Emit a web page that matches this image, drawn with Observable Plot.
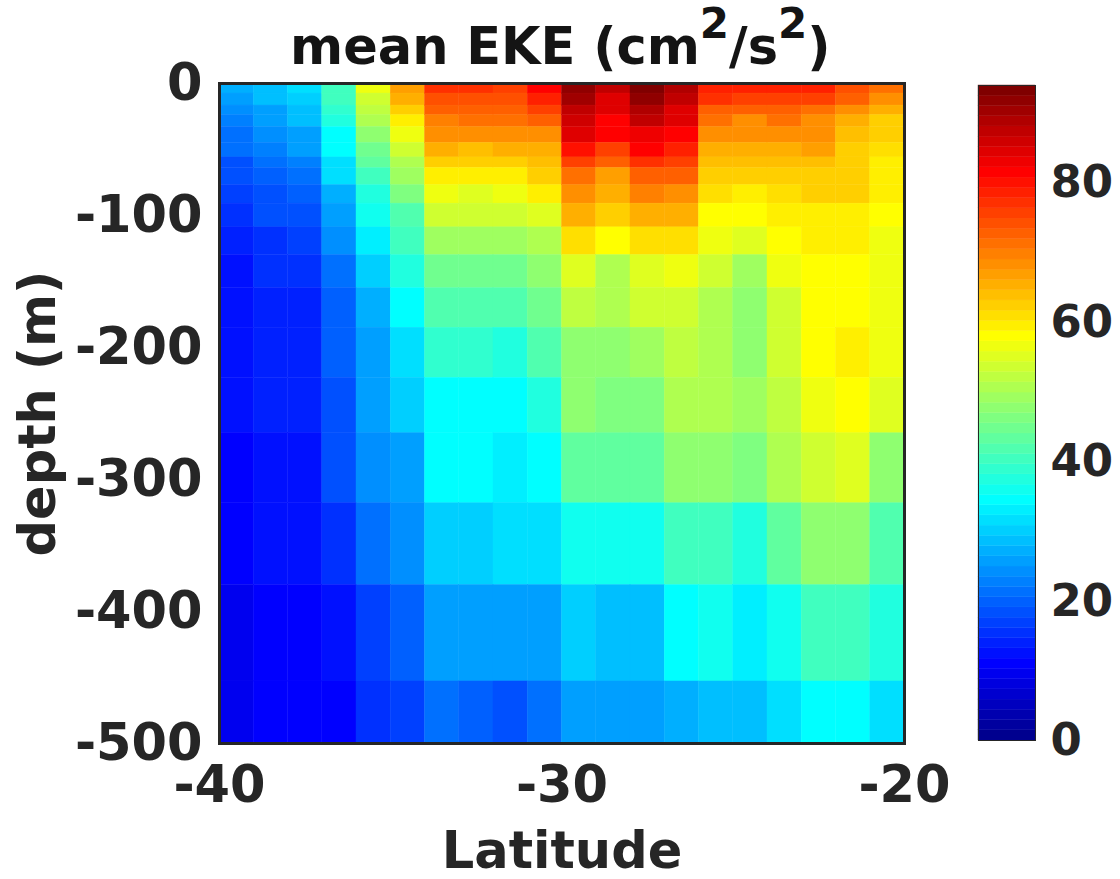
<!DOCTYPE html>
<html><head><meta charset="utf-8">
<script src="https://cdn.jsdelivr.net/npm/d3@7"></script>
<script src="https://cdn.jsdelivr.net/npm/@observablehq/plot@0.6"></script>
<style>
html,body{margin:0;padding:0;background:#fff;}
#wrap{position:relative;width:1120px;height:879px;overflow:hidden;font-family:"DejaVu Sans";}
#title{position:absolute;left:290px;top:15px;font:bold 51px "DejaVu Sans";color:#141414;line-height:64px;white-space:nowrap;}
#title sup{font-size:42px;line-height:0;vertical-align:26px;}
#main,#bar{position:absolute;left:0;top:0;}
svg{overflow:visible;}
</style></head><body>
<div id="wrap"><div id="main"></div><div id="bar"></div>
<div id="title">mean EKE (cm<sup>2</sup>/s<sup>2</sup>)</div></div>
<script>
const latEdges = d3.range(-40,-19,1);
const depthEdges = [0,7.6,16.7,24,33,45,56,64,77,91,109,130,155,185,223,265,318,380,453,500];
const col00=[27,26,24,23,22,21,19,18,17,16,14,12.5,12,12,12,11.5,11,10,10];
const col01=[29,28,26,25,24,23,21,20,19,18,16,15,14,14,14,13,12,11,10.5];
const col02=[31,30,29,28,26,25,23,22,20,19,17,15,14,14,13.5,13,12,11,10.5];
const col03=[41,40,39,37,35,34.5,32,31,27,25,24,21,20,20,19,18,15,13,11];
const col04=[56,54,52,50,47,45,43,41,38,36,33,30,27,26,25,24,22,17,15];
const col05=[67,65,63,60,57,54,50,49,46,42,40,37,34,32,30,26,24,20,17];
const col06=[77,74,72,70,68,66,63,59,56,54,49,45,42,39,35,34,30,25,21];
const col07=[77,74,72,71,68,64,62,59,55,53,49,45,42,39,35,34,30,26,20];
const col08=[76,74,72,71,69,66,62,60,57,54,49,45,42,38,35,33,31,25,19];
const col09=[81,78,76,73,69,65,64,62,59,55,51,47,45,42,37,35,31,25,21];
const col10=[92,91,88,86,84,80,75,71,69,65,61,55,52,48,47,43,36,30,26];
const col11=[88,85,84,82,81,76,72,67,66,62,58.5,51,51,47,46,43,35.5,29,25];
const col12=[93,92,89,87,83,81,77,72,70,66,61,55,53,49,46,44,36.5,29,25];
const col13=[89,88,85,84,82,78,75,72,69,65,61.5,56,54,52,51,48,41,34,27];
const col14=[78,77,73,71,69,66,64,62,61,58,56,53,50,50,51,48,41,36,29];
const col15=[78,76,72,69,69,66,64,63,60,58,55,49,48,48,49,46,38,33,29];
const col16=[79,76,72,71,69,66,64,62,61,59,58,56,53,53,52,50,43,36,31];
const col17=[78,75,71,69,69,67,64,63,62,60,59,58,58,58,57,53,47,40,34.5];
const col18=[74,72,69,66,64,63,63,63,62,60,59,58,58,60,58,54.5,47,41,34.5];
const col19=[71,68,65,63,62,61,60,60,59.5,58,57,56,56,56,55,48,42,37,31];
const columns=[col00,col01,col02,col03,col04,col05,col06,col07,col08,col09,col10,col11,col12,col13,col14,col15,col16,col17,col18,col19];
const xTicks=[-40,-30,-20], yTicks=[0,-100,-200,-300,-400,-500], barTicks=[0,20,40,60,80];
const vmax=94, ink="#262626", levels=64;
const cells=columns.flatMap((c,i)=>c.map((v,j)=>({x1:latEdges[i],x2:latEdges[i+1],y1:-depthEdges[j],y2:-depthEdges[j+1],v})));
// MATLAB jet, 64 levels
const jetStops=[[0,"#00008f"],[7/63,"#0000ff"],[23/63,"#00ffff"],[39/63,"#ffff00"],[55/63,"#ff0000"],[1,"#800000"]];
const jet={type:"quantize",domain:[0,vmax],n:levels,
  range:d3.range(levels).map(k=>d3.scaleLinear().domain(jetStops.map(s=>s[0])).range(jetStops.map(s=>s[1]))(k/(levels-1)))};
const font={fontFamily:"DejaVu Sans",fontWeight:"bold",fill:ink};
const minus=d=>String(d).replace("\u2212","-");
const main=Plot.plot({width:1120,height:879,marginLeft:219,marginRight:216,marginTop:83,marginBottom:136,
  style:{background:"transparent",overflow:"visible"},
  x:{domain:[-40,-20]},y:{domain:[-500,0]},color:jet,
  marks:[
    Plot.rect(cells,{x1:"x1",x2:"x2",y1:"y1",y2:"y2",fill:"v",stroke:"v",strokeWidth:0.4}),
    Plot.frame({stroke:ink,strokeWidth:3}),
    Plot.axisX({ticks:xTicks,tickSize:0,tickPadding:22,fontSize:51,...font,label:null,tickFormat:minus,textAnchor:"middle"}),
    Plot.axisY({ticks:yTicks,tickSize:0,tickPadding:17,fontSize:51,...font,label:null,tickFormat:minus}),
    Plot.text(["Latitude"],{frameAnchor:"bottom",dy:124,fontSize:51,...font}),
    Plot.text(["depth (m)"],{frameAnchor:"left",dx:-181,rotate:-90,textAnchor:"middle",fontSize:51,...font})
  ]});
document.getElementById("main").append(main);
const barCells=d3.range(levels).map(k=>({y1:k*vmax/levels,y2:(k+1)*vmax/levels,v:(k+0.5)*vmax/levels}));
const bar=Plot.plot({width:1120,height:879,marginLeft:978,marginRight:85,marginTop:85,marginBottom:139,
  style:{background:"transparent",overflow:"visible"},
  x:{domain:[0,1],axis:null},y:{domain:[0,vmax]},color:jet,
  marks:[
    Plot.rect(barCells,{x1:0,x2:1,y1:"y1",y2:"y2",fill:"v",stroke:"v",strokeWidth:0.4}),
    Plot.axisY({anchor:"right",ticks:barTicks,tickSize:0,tickPadding:15,fontSize:45,...font,label:null}),
    Plot.frame({stroke:ink,strokeWidth:1})
  ]});
document.getElementById("bar").append(bar);
</script></body></html>
